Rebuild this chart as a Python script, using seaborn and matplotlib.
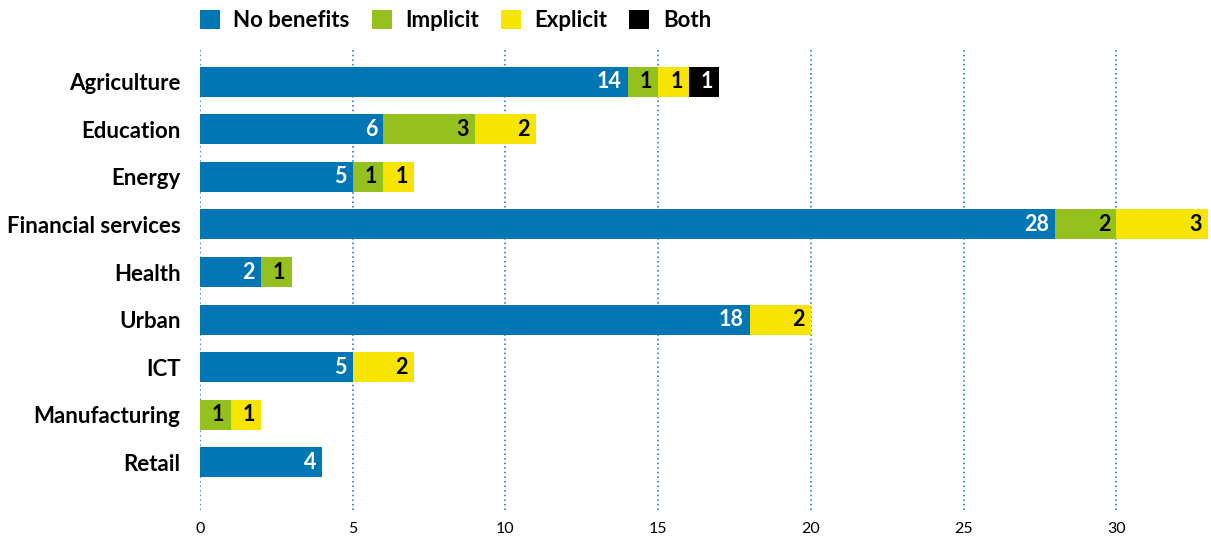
import pandas as pd
import seaborn as sns
import matplotlib.pyplot as plt
from matplotlib.patches import Patch

# 부문별 혜택 유형 데이터
categories = ["Agriculture", "Education", "Energy", "Financial services", "Health",
              "Urban", "ICT", "Manufacturing", "Retail"]
no_benefits = [14, 6, 5, 28, 2, 18, 5, 0, 4]
implicit = [1, 3, 1, 2, 1, 0, 0, 1, 0]
explicit = [1, 2, 1, 3, 0, 2, 2, 1, 0]
both = [1, 0, 0, 0, 0, 0, 0, 0, 0]

series_names = ["No benefits", "Implicit", "Explicit", "Both"]
colors = ["#0077b4", "#95c11f", "#f7e400", "#000000"]
text_colors = ["white", "black", "black", "white"]


def set_config():
    sns.set_style("white")
    plt.rcParams["font.family"] = ["Lato", "DejaVu Sans"]
    plt.rcParams["text.color"] = "black"
    plt.rcParams["xtick.color"] = "black"
    plt.rcParams["ytick.color"] = "black"


def main():
    set_config()
    df = pd.DataFrame({"category": categories, "No benefits": no_benefits,
                       "Implicit": implicit, "Explicit": explicit, "Both": both})
    # 누적 합계
    cum = df[series_names].cumsum(axis=1)

    fig = plt.figure(figsize=(12.11, 5.37), dpi=100)
    ax = fig.add_axes([0.1652, 0.0503, 0.8323, 0.857])

    # 뒤에서부터 겹쳐 그리기 (stacked)
    for i in range(len(series_names) - 1, -1, -1):
        d = pd.DataFrame({"category": categories, "value": cum[series_names[i]]})
        sns.barplot(data=d, x="value", y="category", color=colors[i],
                    saturation=1, width=0.63, ax=ax, zorder=3, linewidth=0)

    # 값 라벨
    for i, name in enumerate(series_names):
        for j in range(len(categories)):
            v = df[name][j]
            if v == 0:
                continue
            ax.text(cum[name][j] - 0.2, j, str(v), ha="right", va="center",
                    color=text_colors[i], fontsize=15.5, fontweight="bold", zorder=4)

    ax.set_xlim(0, 33)
    ax.set_ylim(9.0, -0.67)
    ax.set_xticks([0, 5, 10, 15, 20, 25, 30])
    ax.xaxis.grid(True, color="#0077b4", linestyle=(0, (1, 2)), linewidth=1.1, zorder=0)
    ax.set_axisbelow(True)
    for s in ax.spines.values():
        s.set_visible(False)
    ax.set_xlabel("")
    ax.set_ylabel("")
    ax.tick_params(axis="x", length=0, pad=9, labelsize=11.5)
    ax.tick_params(axis="y", length=0, pad=14)
    for lbl in ax.get_yticklabels():
        lbl.set_fontsize(16)
        lbl.set_fontweight("bold")

    handles = [Patch(facecolor=c, edgecolor="none") for c in colors]
    fig.legend(handles, series_names, loc="upper left", bbox_to_anchor=(0.152, 1.01),
               ncol=4, frameon=False, prop={"size": 16, "weight": "bold"},
               handlelength=0.9, handleheight=0.9, handletextpad=0.6,
               columnspacing=1.0, borderaxespad=0.3)

    plt.savefig("out.png", dpi=100)


if __name__ == "__main__":
    main()
